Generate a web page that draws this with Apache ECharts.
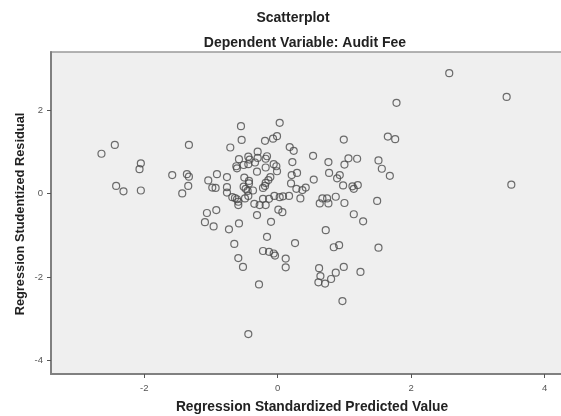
<!DOCTYPE html>
<html>
<head>
<meta charset="utf-8">
<title>Scatterplot</title>
<script src="https://cdn.jsdelivr.net/npm/echarts@6.0.0/dist/echarts.min.js"></script>
<style>
  html, body { margin: 0; padding: 0; background: #ffffff; }
  #chart { width: 561px; height: 416px; }
</style>
</head>
<body>
<div id="chart"></div>
<script>
// Regression standardized predicted value (x) for each case
const predicted = [
  -2.64, -2.44, -2.05, -2.07, -2.42, -2.31, -2.05, -1.58, -1.33, -1.36, -1.33, -1.34, -1.43,
  0.03, -0.55, -0.54, -0.19, -0.07, -0.01, -0.71, -0.30, 0.18, 0.24, -0.58, -0.44, -0.42,
  -0.30, -0.16, -0.18, -0.62, -0.61, -0.51, -0.44, -0.34, -0.18, -0.06, -0.02, 0.22, -0.31,
  -0.01, 0.21, -0.91, -0.76, -1.04, -0.50, -0.43, -0.43, -0.11, -0.14, -0.18, -0.98, -0.93,
  -0.76, -0.51, -0.48, -0.45, -0.37, -0.22, -0.19, 0.20, -0.76, -0.68, -0.64, -0.61, -0.59,
  -0.59, -0.49, -0.44, -0.35, -0.27, -0.22, -0.13, -0.18, -0.05, 0.03, 0.08, 0.17,
  0.99, 1.65, 1.76, 0.53, 0.76, 1.06, 1.19, 1.00, 1.51, 1.56, 1.68, 0.29, 0.54, 0.77, 0.93,
  0.89, 0.42, 0.37, 0.28, 0.34, 0.98, 1.12, 1.14, 1.20, 0.67, 0.74, 0.63, 0.76, 0.87, 1.00, 1.49,
  -1.06, -0.92, 0.01, 0.07, -1.09, -0.96, -0.73, -0.58, -0.31, -0.10, -0.65, -0.16, -0.22,
  -0.13, -0.06, -0.04, 0.26, -0.59, -0.52, 0.12, 0.12, -0.28,
  1.14, 1.28, 0.72, 0.84, 0.92, 1.51, 0.62, 0.64, 0.61, 0.71, 0.80, 0.87, 0.99, 1.24, 0.97, -0.44,
  2.57, 3.43, 1.78, 3.50
];

// Regression studentized residual (y) for each case, same order
const residual = [
  0.95, 1.16, 0.72, 0.58, 0.18, 0.05, 0.07, 0.44, 1.16, 0.46, 0.40, 0.18, 0.00,
  1.69, 1.61, 1.28, 1.26, 1.31, 1.37, 1.10, 1.00, 1.11, 1.02, 0.82, 0.88, 0.81,
  0.85, 0.89, 0.83, 0.65, 0.60, 0.68, 0.70, 0.74, 0.62, 0.70, 0.65, 0.75, 0.52,
  0.53, 0.44, 0.46, 0.39, 0.31, 0.38, 0.30, 0.24, 0.39, 0.32, 0.25, 0.14, 0.13,
  0.15, 0.16, 0.11, 0.06, 0.07, 0.13, 0.18, 0.24, 0.02, -0.09, -0.11, -0.14, -0.20,
  -0.28, -0.12, -0.06, -0.25, -0.28, -0.13, -0.13, -0.28, -0.06, -0.09, -0.07, -0.06,
  1.29, 1.36, 1.30, 0.90, 0.75, 0.84, 0.83, 0.69, 0.79, 0.59, 0.42, 0.49, 0.33, 0.49, 0.44,
  0.36, 0.14, 0.08, 0.11, -0.12, 0.19, 0.17, 0.11, 0.20, -0.12, -0.12, -0.24, -0.24, -0.08, -0.23, -0.18,
  -0.47, -0.40, -0.39, -0.45, -0.69, -0.79, -0.86, -0.72, -0.52, -0.68, -1.21, -1.04, -1.38,
  -1.40, -1.44, -1.49, -1.19, -1.55, -1.76, -1.56, -1.77, -2.18,
  -0.50, -0.67, -0.88, -1.29, -1.24, -1.30, -1.79, -1.98, -2.13, -2.16, -2.05, -1.90, -1.76, -1.88, -2.58, -3.37,
  2.88, 2.31, 2.17, 0.21
];

// Tick positions shown on each axis
const xTicks = [-2, 0, 2, 4];
const yTicks = [-4, -2, 0, 2];

// Axis extents of the plotting frame (the frame runs past the right edge)
const xRange = [-3.396, 4.394];
const yRange = [-4.326, 3.387];

const points = predicted.map((v, i) => [v, residual[i]]);

const FONT = '"Liberation Sans", Arial, sans-serif';

const chart = echarts.init(document.getElementById('chart'), null, { renderer: 'canvas' });

chart.setOption({
  animation: false,
  backgroundColor: '#ffffff',
  title: [
    {
      text: 'Scatterplot',
      left: 288, top: 6, textAlign: 'center',
      textStyle: { fontFamily: FONT, fontSize: 14, fontWeight: 'bold', color: '#222' }
    },
    {
      text: 'Dependent Variable: Audit Fee',
      left: 300, top: 31, textAlign: 'center',
      textStyle: { fontFamily: FONT, fontSize: 14, fontWeight: 'bold', color: '#222' }
    }
  ],
  grid: {
    left: 51, top: 52, width: 520, height: 322,
    outerBoundsMode: 'none',
    containLabel: false,
    show: true,
    backgroundColor: '#efefef',
    borderColor: '#9a9a9a',
    borderWidth: 1.5
  },
  xAxis: {
    type: 'value',
    min: xRange[0], max: xRange[1],
    splitLine: { show: false },
    axisLine: { show: true, onZero: false, lineStyle: { color: '#808080', width: 2 } },
    axisTick: { show: true, customValues: xTicks, length: 4, lineStyle: { color: '#555', width: 1 } },
    axisLabel: {
      show: true, customValues: xTicks, margin: 9,
      fontFamily: FONT, fontSize: 9.5, color: '#555',
      showMinLabel: true, showMaxLabel: true
    }
  },
  yAxis: {
    type: 'value',
    min: yRange[0], max: yRange[1],
    splitLine: { show: false },
    axisLine: { show: true, onZero: false, lineStyle: { color: '#808080', width: 2 } },
    axisTick: { show: true, customValues: yTicks, length: 4, lineStyle: { color: '#555', width: 1 } },
    axisLabel: {
      show: true, customValues: yTicks, margin: 8,
      fontFamily: FONT, fontSize: 9.5, color: '#555'
    }
  },
  graphic: [
    {
      type: 'text',
      x: 312, y: 407,
      style: {
        text: 'Regression Standardized Predicted Value',
        fontFamily: FONT, fontSize: 13.8, fontWeight: 'bold', fill: '#222',
        align: 'center', verticalAlign: 'middle'
      }
    },
    {
      type: 'text',
      x: 20, y: 214,
      rotation: Math.PI / 2,
      style: {
        text: 'Regression Studentized Residual',
        fontFamily: FONT, fontSize: 12.8, fontWeight: 'bold', fill: '#222',
        align: 'center', verticalAlign: 'middle'
      }
    }
  ],
  series: [
    {
      type: 'scatter',
      data: points,
      symbol: 'circle',
      symbolSize: 7,
      itemStyle: { color: 'rgba(0,0,0,0)', borderColor: '#4a4a4a', borderWidth: 1.2 },
      emphasis: { disabled: true },
      silent: true
    }
  ]
});
</script>
</body>
</html>
